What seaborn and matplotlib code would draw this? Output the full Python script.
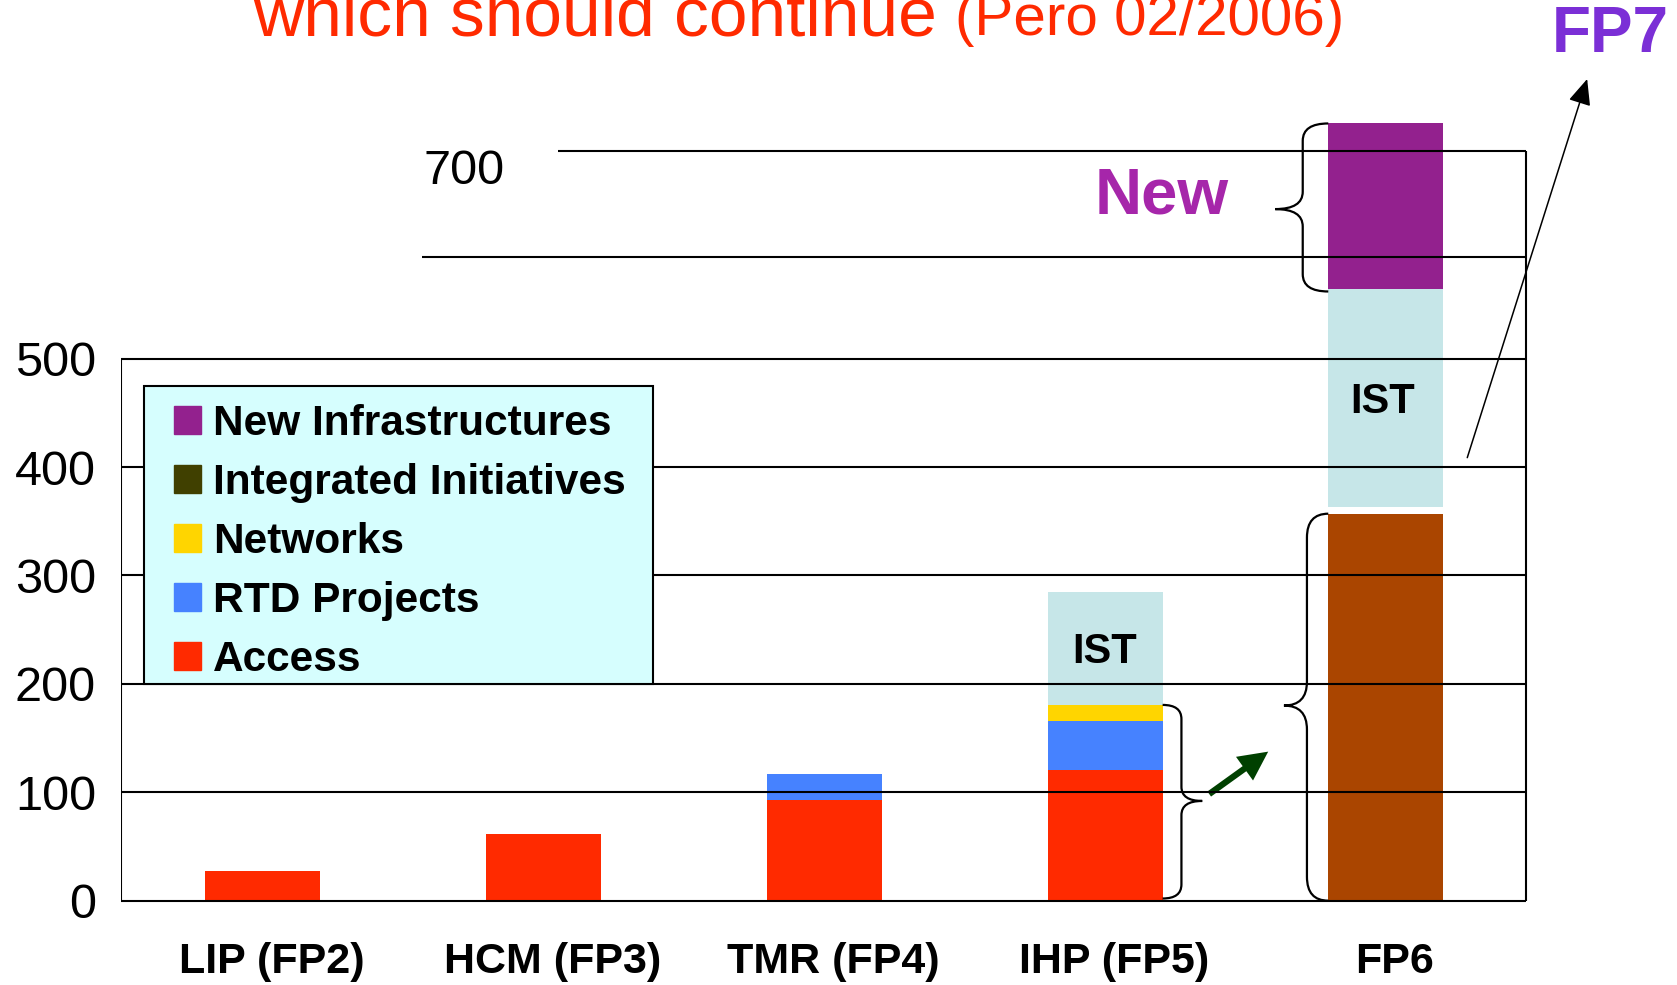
import numpy as np
import seaborn as sns
import matplotlib.pyplot as plt
from matplotlib.patches import Patch, PathPatch, FancyArrowPatch, Rectangle
from matplotlib.path import Path
from matplotlib.transforms import ScaledTranslation

# Programme budgets
categories = ["LIP (FP2)", "HCM (FP3)", "TMR (FP4)", "IHP (FP5)", "FP6"]
access = [27.8, 61.3, 92.9, 120.6, 0]
rtd_projects = [0, 0, 23.7, 45.2, 0]
networks = [0, 0, 0, 14.8, 0]
integrated = [0, 0, 0, 0, 0]
fp6_infra = [0, 0, 0, 0, 357]
ist = [0, 0, 0, 104.3, 201.5]
ist_gap = [0, 0, 0, 0, 6]
new_infra = [0, 0, 0, 0, 153]

y_ticks = [0, 100, 200, 300, 400, 500]
upper_lines = [594, 692]  # the two extra rules above the frame, as drawn

legend_labels = ["New Infrastructures", "Integrated Initiatives", "Networks",
                 "RTD Projects", "Access"]
c_access = "#FF2A00"
c_rtd = "#4682FF"
c_net = "#FFD500"
c_int = "#404000"
c_new = "#93218E"
c_ist = "#C6E6E8"
c_fp6 = "#AA4500"

sns.set_style("white")
plt.rcParams["font.family"] = ["Liberation Sans", "DejaVu Sans"]
plt.rcParams["text.color"] = "black"
plt.rcParams["xtick.color"] = "black"
plt.rcParams["ytick.color"] = "black"

fig = plt.figure(figsize=(16.77, 9.85), dpi=100)
ax = fig.add_axes([0.0721, 0.0856, 0.838, 0.8804])

# stacked segments
b_rtd = np.array(access)
b_net = b_rtd + np.array(rtd_projects)
b_ist = b_net + np.array(networks) + np.array(fp6_infra) + np.array(ist_gap)
b_new = b_ist + np.array(ist)

layers = [
    (access, 0, c_access),
    (rtd_projects, b_rtd, c_rtd),
    (networks, b_net, c_net),
    (fp6_infra, 0, c_fp6),
    (ist, b_ist, c_ist),
    (new_infra, b_new, c_new),
]
for vals, bottom, col in layers:
    sns.barplot(x=categories, y=vals, bottom=bottom, color=col, saturation=1,
                width=0.41, errorbar=None, linewidth=0, ax=ax)

ax.set_xlim(-0.505, 4.5)
ax.set_ylim(0, 800)
for s in ax.spines.values():
    s.set_visible(False)

# frame and rules
lw = 1.5
ax.hlines(y_ticks, -0.505, 4.5, color="black", lw=lw, clip_on=False)
ax.vlines(-0.505, 0, 500, color="black", lw=lw)
ax.vlines(4.5, 0, upper_lines[1], color="black", lw=lw, clip_on=False)
ax.hlines(upper_lines[0], 0.569, 4.5, color="black", lw=lw, clip_on=False)
ax.hlines(upper_lines[1], 1.052, 4.5, color="black", lw=lw, clip_on=False)
ax.text(0.863, 673, "700", fontsize=35, ha="right", va="center")

ax.set_yticks(y_ticks)
ax.set_yticklabels([str(t) for t in y_ticks], fontsize=35)
ax.tick_params(axis="y", length=0, pad=18)
ax.tick_params(axis="x", length=0, pad=30)
ax.set_xticks(range(len(categories)))
ax.set_xticklabels(categories, fontsize=31, fontweight="bold")
for lab in ax.get_xticklabels():
    lab.set_transform(lab.get_transform() + ScaledTranslation(0.09, 0, fig.dpi_scale_trans))
ax.set_xlabel("")
ax.set_ylabel("")

# segment captions
ax.text(3.0, 229, "IST", fontsize=30, fontweight="bold", ha="center", va="center")
ax.text(3.99, 460, "IST", fontsize=30, fontweight="bold", ha="center", va="center")
ax.text(3.203, 650, "New", fontsize=47, fontweight="bold", color="#A626AA",
        ha="center", va="center")


def brace(x_edge, x_line, x_tip, y_top, y_bot, y_mid, r):
    verts = [(x_edge, y_top), (x_line, y_top), (x_line, y_top - r),
             (x_line, y_mid + r), (x_line, y_mid), (x_tip, y_mid),
             (x_line, y_mid), (x_line, y_mid - r),
             (x_line, y_bot + r), (x_line, y_bot), (x_edge, y_bot)]
    codes = [Path.MOVETO, Path.CURVE3, Path.CURVE3, Path.LINETO,
             Path.CURVE3, Path.CURVE3, Path.CURVE3, Path.CURVE3,
             Path.LINETO, Path.CURVE3, Path.CURVE3]
    ax.add_patch(PathPatch(Path(verts, codes), fill=False, lw=1.6,
                           ec="black", clip_on=False))


brace(3.205, 3.272, 3.346, 180.6, 2, 92, 13)
brace(3.795, 3.719, 3.637, 357, 0, 180, 22)
brace(3.795, 3.704, 3.606, 717, 562, 638, 16)

# arrows
ax.add_patch(FancyArrowPatch((3.371, 98.4), (3.581, 137.5),
                             arrowstyle="simple,head_length=21,head_width=21,tail_width=4.5",
                             mutation_scale=1, color="#004000", lw=0,
                             shrinkA=0, shrinkB=0))
ax.add_patch(FancyArrowPatch((4.29, 408.7), (4.717, 758),
                             arrowstyle="-|>,head_length=16,head_width=7",
                             mutation_scale=1, color="black", lw=1.1,
                             shrinkA=0, shrinkB=0, clip_on=False))

# legend: boxed panel with the entries placed inside
ax.add_patch(Rectangle((144 / 1677, 1 - 684 / 985), 509 / 1677, 298 / 985,
                       transform=fig.transFigure, fc="#D6FEFE", ec="black",
                       lw=1.5, zorder=4, clip_on=False))
handles = [Patch(color=c) for c in [c_new, c_int, c_net, c_rtd, c_access]]
leg = ax.legend(handles, legend_labels, loc="upper left",
                bbox_to_anchor=(174 / 1677, 1 - 404 / 985),
                bbox_transform=fig.transFigure, borderaxespad=0,
                prop={"size": 30.5, "weight": "bold"}, frameon=False,
                handlelength=0.63, handleheight=0.63, handletextpad=0.3,
                labelspacing=0.45, borderpad=0)
leg.set_zorder(5)

# slide heading (cut off at the top) and FP7 tag
fig.text(253.5 / 1677, 1 - 35 / 985, "which should continue", fontsize=50,
         color="#FF2A00", ha="left", va="baseline")
fig.text(955 / 1677, 1 - 35 / 985, "(Pero 02/2006)", fontsize=42,
         color="#FF2A00", ha="left", va="baseline")
fig.text(1610 / 1677, 1 - 35 / 985, "FP7", fontsize=46, fontweight="bold",
         color="#7B2FD6", ha="center", va="center")

fig.savefig("out.png", dpi=100)
